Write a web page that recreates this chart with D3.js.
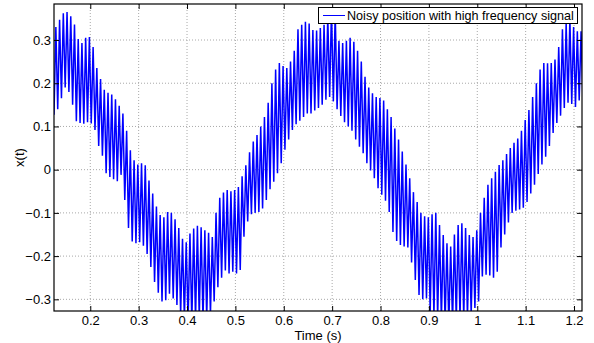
<!DOCTYPE html>
<html>
<head>
<meta charset="utf-8">
<script src="https://cdn.jsdelivr.net/npm/d3@7"></script>
<style>
  html, body { margin: 0; padding: 0; background: #fff; }
  svg { display: block; font-family: "Liberation Sans", Arial, sans-serif; }
</style>
</head>
<body>
<div id="chart"></div>
<script>
// time of the first sample and length of one high-frequency cycle (s)
const cycleStart = 0.125;
const cyclePeriod = 0.0077;

// bottom of each high-frequency cycle
const troughs = [
  0.127, 0.14, 0.165, 0.19, 0.18, 0.15, 0.112, 0.108, 0.106, 0.11,
  0.107, 0.092, 0.055, 0.032, -0.008, -0.017, -0.022, -0.027, -0.012, -0.07,
  -0.135, -0.166, -0.17, -0.168, -0.176, -0.195, -0.225, -0.26, -0.285, -0.305,
  -0.302, -0.287, -0.298, -0.313, -0.335, -0.345, -0.35, -0.355, -0.35, -0.345,
  -0.35, -0.345, -0.335, -0.305, -0.272, -0.25, -0.233, -0.24, -0.236, -0.24,
  -0.232, -0.155, -0.12, -0.103, -0.1, -0.098, -0.09, -0.07, -0.045, -0.028,
  -0.008, 0.015, 0.046, 0.07, 0.092, 0.105, 0.113, 0.122, 0.13, 0.13,
  0.137, 0.143, 0.15, 0.162, 0.168, 0.158, 0.14, 0.124, 0.11, 0.1,
  0.09, 0.07, 0.053, 0.038, 0.015, -0.002, -0.02, -0.043, -0.058, -0.072,
  -0.098, -0.144, -0.165, -0.174, -0.178, -0.18, -0.215, -0.255, -0.29, -0.3,
  -0.298, -0.33, -0.34, -0.345, -0.35, -0.355, -0.36, -0.355, -0.35, -0.345,
  -0.345, -0.34, -0.335, -0.32, -0.305, -0.247, -0.243, -0.245, -0.25, -0.236,
  -0.18, -0.15, -0.122, -0.1, -0.095, -0.092, -0.088, -0.075, -0.055, -0.035,
  -0.01, 0.012, 0.03, 0.055, 0.085, 0.108, 0.125, 0.143, 0.155, 0.152,
  0.145, 0.16, 0.165
];

// top of each high-frequency cycle
const peaks = [
  0.33, 0.347, 0.362, 0.365, 0.355, 0.336, 0.302, 0.293, 0.305, 0.307,
  0.284, 0.235, 0.21, 0.185, 0.178, 0.174, 0.163, 0.148, 0.13, 0.09,
  0.045, 0.022, 0.012, 0.015, 0.01, -0.025, -0.055, -0.085, -0.105, -0.11,
  -0.098, -0.1, -0.115, -0.135, -0.16, -0.168, -0.148, -0.136, -0.13, -0.133,
  -0.14, -0.146, -0.156, -0.1, -0.065, -0.053, -0.047, -0.05, -0.047, -0.04,
  -0.015, 0.01, 0.04, 0.065, 0.08, 0.1, 0.122, 0.155, 0.2, 0.232,
  0.247, 0.24, 0.235, 0.25, 0.275, 0.325, 0.335, 0.342, 0.338, 0.323,
  0.322, 0.328, 0.335, 0.355, 0.372, 0.365, 0.298, 0.293, 0.298, 0.305,
  0.296, 0.275, 0.25, 0.215, 0.19, 0.177, 0.168, 0.166, 0.16, 0.14,
  0.122, 0.095, 0.07, 0.042, 0.012, -0.02, -0.052, -0.075, -0.1, -0.108,
  -0.11, -0.103, -0.1, -0.128, -0.151, -0.17, -0.178, -0.15, -0.128, -0.124,
  -0.135, -0.151, -0.156, -0.14, -0.1, -0.065, -0.035, -0.02, -0.005, 0.011,
  0.022, 0.036, 0.05, 0.062, 0.072, 0.09, 0.115, 0.138, 0.168, 0.2,
  0.232, 0.247, 0.246, 0.247, 0.255, 0.284, 0.325, 0.34, 0.35, 0.33,
  0.32, 0.32
];

const xTicks = [0.2, 0.3, 0.4, 0.5, 0.6, 0.7, 0.8, 0.9, 1.0, 1.1, 1.2];
const xTickLabels = ["0.2", "0.3", "0.4", "0.5", "0.6", "0.7", "0.8", "0.9", "1", "1.1", "1.2"];
const yTicks = [-0.3, -0.2, -0.1, 0, 0.1, 0.2, 0.3];
const yTickLabels = ["\u22120.3", "\u22120.2", "\u22120.1", "0", "0.1", "0.2", "0.3"];

const xDomain = [0.125, 1.2165];
const yDomain = [-0.327, 0.3833];

const seriesName = "Noisy position with high frequency signal";
const xTitle = "Time (s)";
const yTitle = "x(t)";

const width = 594, height = 343;
const margin = { top: 4, right: 12, bottom: 32, left: 54 };
const innerW = width - margin.left - margin.right;
const innerH = height - margin.top - margin.bottom;

// samples: trough then peak, half a cycle apart
const samples = [];
troughs.forEach((v, i) => {
    samples.push({ t: cycleStart + i * cyclePeriod, v: v });
    if (i < peaks.length) {
        samples.push({ t: cycleStart + (i + 0.5) * cyclePeriod, v: peaks[i] });
    }
});

const svg = d3.select('#chart')
    .append('svg')
    .attr('width', width)
    .attr('height', height);

const g = svg.append('g')
    .attr('transform', `translate(${margin.left},${margin.top})`);

const x = d3.scaleLinear().domain(xDomain).range([0, innerW]);
const y = d3.scaleLinear().domain(yDomain).range([innerH, 0]);

// dotted grid
g.append('g')
    .selectAll('line')
    .data(xTicks)
    .enter()
    .append('line')
    .attr('x1', d => x(d)).attr('x2', d => x(d))
    .attr('y1', 0).attr('y2', innerH)
    .attr('stroke', '#a8a8a8')
    .attr('stroke-dasharray', '1,2');

g.append('g')
    .selectAll('line')
    .data(yTicks)
    .enter()
    .append('line')
    .attr('x1', 0).attr('x2', innerW)
    .attr('y1', d => y(d)).attr('y2', d => y(d))
    .attr('stroke', '#a8a8a8')
    .attr('stroke-dasharray', '1,2');

// signal
g.append('clipPath')
    .attr('id', 'plot-clip')
    .append('rect')
    .attr('width', innerW)
    .attr('height', innerH);

const line = d3.line()
    .x(d => x(d.t))
    .y(d => y(d.v));

g.append('path')
    .datum(samples)
    .attr('clip-path', 'url(#plot-clip)')
    .attr('fill', 'none')
    .attr('stroke', '#0000ff')
    .attr('stroke-width', 1.5)
    .attr('d', line);

// axes, ticks pointing inward
const fontSize = 13;

g.append('g')
    .attr('transform', `translate(0,${innerH})`)
    .call(d3.axisBottom(x).tickValues(xTicks)
        .tickFormat((d, i) => xTickLabels[i])
        .tickSizeInner(-5).tickSizeOuter(0).tickPadding(5));

g.append('g')
    .call(d3.axisLeft(y).tickValues(yTicks)
        .tickFormat((d, i) => yTickLabels[i])
        .tickSizeInner(-5).tickSizeOuter(0).tickPadding(3));

g.append('g')
    .call(d3.axisTop(x).tickValues(xTicks).tickFormat('')
        .tickSizeInner(-5).tickSizeOuter(0));

g.append('g')
    .attr('transform', `translate(${innerW},0)`)
    .call(d3.axisRight(y).tickValues(yTicks).tickFormat('')
        .tickSizeInner(-5).tickSizeOuter(0));

g.selectAll('.domain').remove();
g.selectAll('.tick line').attr('stroke', '#000');
g.selectAll('.tick text')
    .attr('fill', '#000')
    .style('font-size', fontSize + 'px')
    .style('font-family', '"Liberation Sans", Arial, sans-serif');

// box
g.append('rect')
    .attr('width', innerW)
    .attr('height', innerH)
    .attr('fill', 'none')
    .attr('stroke', '#000')
    .attr('stroke-width', 1.2);

// axis titles
svg.append('text')
    .attr('x', margin.left + innerW / 2)
    .attr('y', 340)
    .attr('text-anchor', 'middle')
    .style('font-size', fontSize + 'px')
    .text(xTitle);

svg.append('text')
    .attr('transform', `translate(24,${margin.top + innerH / 2}) rotate(-90)`)
    .attr('text-anchor', 'middle')
    .style('font-size', fontSize + 'px')
    .text(yTitle);

// legend
const legend = svg.append('g');
legend.append('rect')
    .attr('x', 318.5).attr('y', 7.5)
    .attr('width', 259).attr('height', 16)
    .attr('fill', '#fff')
    .attr('stroke', '#000')
    .attr('stroke-width', 1);
legend.append('line')
    .attr('x1', 323).attr('x2', 345)
    .attr('y1', 15.5).attr('y2', 15.5)
    .attr('stroke', '#0000ff')
    .attr('stroke-width', 1);
legend.append('text')
    .attr('x', 347)
    .attr('y', 20)
    .style('font-size', '12.6px')
    .text(seriesName);
</script>
</body>
</html>
